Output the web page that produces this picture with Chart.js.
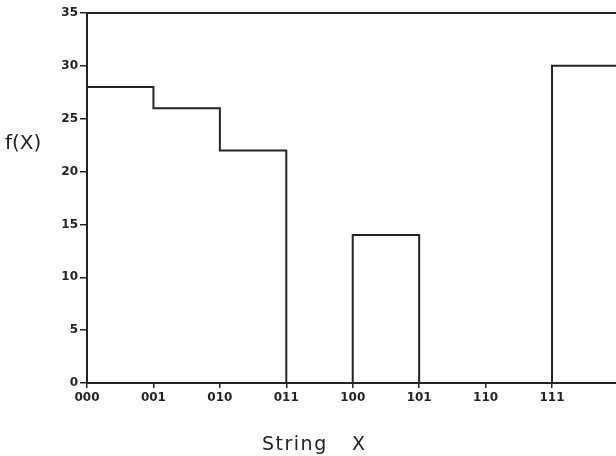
<!DOCTYPE html>
<html>
<head>
<meta charset="utf-8">
<script src="https://cdn.jsdelivr.net/npm/chart.js@4"></script>
<style>
  html, body { margin: 0; padding: 0; background: #fff; overflow: hidden; }
  #wrap { position: relative; width: 616px; height: 456px; }
  .lbl { position: absolute; font-family: "DejaVu Sans", sans-serif; color: #222; white-space: pre; line-height: 1; }
  #ylab { left: 5px; top: 132px; font-size: 20px; }
  #xlab { left: 262px; top: 434px; font-size: 19px; }
  #xlab span { letter-spacing: 1.5px; }
  #xvar { position: absolute; left: 352px; top: 434px; font-size: 19px; }
</style>
</head>
<body>
<div id="wrap">
  <canvas id="chart" width="616" height="456"></canvas>
  <div class="lbl" id="ylab">f(X)</div>
  <div class="lbl" id="xlab"><span>String</span></div>
  <div class="lbl" id="xvar">X</div>
</div>
<script>
// ==============================
// DATA
// ==============================
const strings = ["000", "001", "010", "011", "100", "101", "110", "111"];
const fitness = [28, 26, 22, 0, 14, 0, 0, 30];
const yTicks = [0, 5, 10, 15, 20, 25, 30, 35];

// step line: each string holds its value until the next one
const points = [{ x: 0, y: 0 }];
fitness.forEach((v, i) => points.push({ x: i, y: v }));
points.push({ x: fitness.length, y: fitness[fitness.length - 1] });

const INK = "#232323";
const tickFont = { family: "DejaVu Sans", size: 12, weight: "bold" };

// ==============================
// CHART
// ==============================
const ctx = document.getElementById("chart").getContext("2d");

new Chart(ctx, {
  type: "line",
  data: {
    datasets: [
      {
        data: points,
        stepped: "before",
        borderColor: INK,
        borderWidth: 2,
        pointRadius: 0,
        fill: false,
        clip: 0,
      },
    ],
  },
  options: {
    responsive: false,
    animation: false,
    layout: { padding: 0 },
    plugins: {
      legend: { display: false },
      tooltip: { enabled: false },
    },
    scales: {
      x: {
        type: "linear",
        min: 0,
        max: 7.963,
        afterFit: (s) => { s.height = 73; },
        afterBuildTicks: (s) => {
          s.ticks = strings.map((_, i) => ({ value: i }));
        },
        border: { display: true, color: INK, width: 2 },
        grid: { display: true, drawOnChartArea: false, drawTicks: true, tickLength: 5, color: INK, lineWidth: 1.5 },
        ticks: {
          color: INK,
          font: tickFont,
          padding: 3,
          maxRotation: 0,
          autoSkip: false,
          callback: (v) => strings[v],
        },
      },
      top: {
        type: "linear",
        position: "top",
        min: 0,
        max: 7.963,
        afterFit: (s) => { s.height = 13; },
        border: { display: true, color: INK, width: 2 },
        grid: { display: false },
        ticks: { display: false },
      },
      y: {
        min: 0,
        max: 35,
        afterFit: (s) => { s.width = 87; },
        afterBuildTicks: (s) => {
          s.ticks = yTicks.map((v) => ({ value: v }));
        },
        border: { display: true, color: INK, width: 2 },
        grid: { display: true, drawOnChartArea: false, drawTicks: true, tickLength: 7, color: INK, lineWidth: 1.5 },
        ticks: {
          color: INK,
          font: tickFont,
          padding: 2,
        },
      },
    },
  },
});
</script>
</body>
</html>
